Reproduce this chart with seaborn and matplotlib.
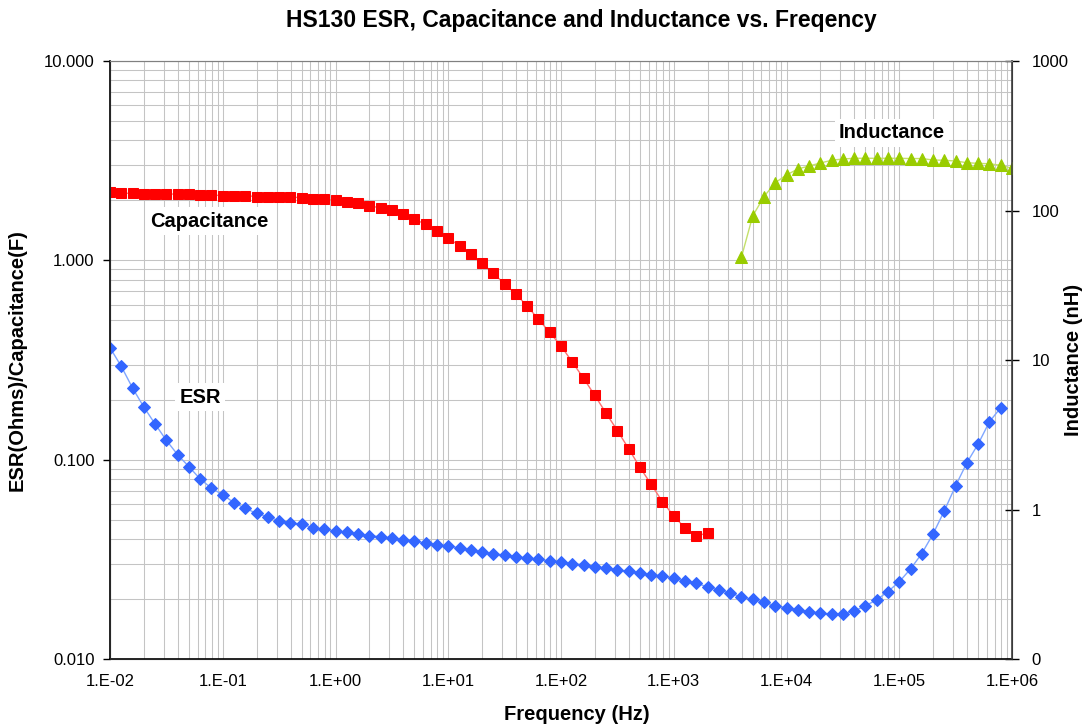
import numpy as np
import pandas as pd
import matplotlib
matplotlib.use('Agg')
import matplotlib.pyplot as plt
from matplotlib.ticker import FixedLocator, FixedFormatter, LogLocator, NullFormatter
import seaborn as sns

# sweep frequencies, 10 points per decade from 1e-2 to 1e6 Hz
freq = np.logspace(-2, 6, 81)

# ESR (Ohms), first 80 sweep points
esr = [0.3645, 0.2939, 0.2288, 0.1837, 0.1510, 0.1250, 0.1059, 0.0922, 0.0800, 0.0719,
       0.0667, 0.0608, 0.0570, 0.0538, 0.0517, 0.0494, 0.0481, 0.0475, 0.0456, 0.0447,
       0.0439, 0.0432, 0.0424, 0.0415, 0.0411, 0.0405, 0.0397, 0.0391, 0.0381, 0.0374,
       0.0367, 0.0362, 0.0352, 0.0344, 0.0337, 0.0332, 0.0326, 0.0321, 0.0316, 0.0311,
       0.0307, 0.0301, 0.0297, 0.0290, 0.0286, 0.0280, 0.0275, 0.0270, 0.0265, 0.0261,
       0.0254, 0.0247, 0.0240, 0.0230, 0.0222, 0.0214, 0.0205, 0.0199, 0.0193, 0.0185,
       0.0181, 0.0176, 0.0173, 0.0170, 0.0168, 0.0168, 0.0174, 0.0185, 0.0198, 0.0218,
       0.0244, 0.0283, 0.0338, 0.0424, 0.0554, 0.0740, 0.0965, 0.1199, 0.1550, 0.1823]

# Capacitance (F), first 54 sweep points
cap = [2.19, 2.17, 2.17, 2.15, 2.15, 2.15, 2.15, 2.15, 2.13, 2.13,
       2.11, 2.11, 2.11, 2.09, 2.09, 2.08, 2.08, 2.06, 2.04, 2.02,
       2.00, 1.96, 1.93, 1.88, 1.83, 1.78, 1.70, 1.61, 1.515, 1.40,
       1.29, 1.185, 1.07, 0.966, 0.861, 0.761, 0.676, 0.590, 0.506, 0.435,
       0.372, 0.309, 0.256, 0.210, 0.171, 0.140, 0.1135, 0.0915, 0.0752, 0.0615,
       0.0522, 0.0454, 0.0414, 0.0429]

# Inductance (nH), sweep points 56..80
ind = [48.6, 91.9, 123.7, 153.5, 172.8, 189.5, 198.5, 207.8, 216.7, 221.1,
       223.5, 223.5, 223.5, 223.5, 223.5, 222.6, 222.6, 217.7, 216.7, 214.3,
       208.8, 206.6, 205.5, 200.6, 191.6]
ind_start = 56

x_ticks = [1e-2, 1e-1, 1e0, 1e1, 1e2, 1e3, 1e4, 1e5, 1e6]
x_labels = ['1.E-02', '1.E-01', '1.E+00', '1.E+01', '1.E+02', '1.E+03', '1.E+04', '1.E+05', '1.E+06']
left_ticks = [0.01, 0.1, 1, 10]
left_labels = ['0.010', '0.100', '1.000', '10.000']
right_ticks = [0.1, 1, 10, 100, 1000]
right_labels = ['0', '1', '10', '100', '1000']

df_esr = pd.DataFrame({'freq': freq[:len(esr)], 'val': esr})
df_cap = pd.DataFrame({'freq': freq[:len(cap)], 'val': cap})
df_ind = pd.DataFrame({'freq': freq[ind_start:ind_start + len(ind)], 'val': ind})

sns.set_style('white')
plt.rcParams['font.family'] = ['Liberation Sans', 'DejaVu Sans']
plt.rcParams['text.color'] = 'black'
plt.rcParams['axes.labelcolor'] = 'black'

fig = plt.figure(figsize=(10.9, 7.24), dpi=100)
ax = fig.add_axes([110 / 1090, 1 - 659 / 724, 902 / 1090, 598 / 724])
ax2 = ax.twinx()

sns.lineplot(data=df_esr, x='freq', y='val', ax=ax, color='#7fa6ff', lw=1,
             marker='D', markersize=6.5, markerfacecolor='#3366ff', markeredgecolor='#3366ff')
sns.lineplot(data=df_cap, x='freq', y='val', ax=ax, color='#ff7070', lw=1,
             marker='s', markersize=6.6, markerfacecolor='#ff0000', markeredgecolor='#ff0000')
sns.lineplot(data=df_ind, x='freq', y='val', ax=ax2, color='#c4e06a', lw=1,
             marker='^', markersize=8, markerfacecolor='#99cc00', markeredgecolor='#99cc00')

ax.set_xscale('log')
ax.set_yscale('log')
ax2.set_yscale('log')
ax.set_xlim(1e-2, 1e6)
ax.set_ylim(0.01, 10)
ax2.set_ylim(0.1, 1000)

ax.xaxis.set_major_locator(FixedLocator(x_ticks))
ax.xaxis.set_major_formatter(FixedFormatter(x_labels))
ax.xaxis.set_minor_locator(LogLocator(base=10, subs=np.arange(2, 10), numticks=20))
ax.xaxis.set_minor_formatter(NullFormatter())
ax.yaxis.set_major_locator(FixedLocator(left_ticks))
ax.yaxis.set_major_formatter(FixedFormatter(left_labels))
ax.yaxis.set_minor_locator(LogLocator(base=10, subs=np.arange(2, 10), numticks=20))
ax.yaxis.set_minor_formatter(NullFormatter())
ax2.yaxis.set_major_locator(FixedLocator(right_ticks))
ax2.yaxis.set_major_formatter(FixedFormatter(right_labels))
ax2.yaxis.set_minor_locator(FixedLocator([]))

ax.grid(True, which='both', color='#c4c4c4', lw=0.75)
ax2.grid(False)
ax.tick_params(which='minor', length=0)
ax.tick_params(axis='x', which='major', direction='out', length=5, width=1,
               color='black', labelsize=12, labelcolor='black', pad=6)
ax.tick_params(axis='y', which='major', direction='out', length=5, width=1,
               color='black', labelsize=12, labelcolor='black', pad=6)
ax2.tick_params(axis='y', which='major', direction='inout', length=10, width=1,
                color='black', labelsize=12, labelcolor='black', pad=9)

for sp in ['left', 'bottom']:
    ax.spines[sp].set_color('black')
    ax.spines[sp].set_linewidth(1.2)
ax2.spines['right'].set_color('#404040')
ax2.spines['right'].set_linewidth(1.2)
ax2.spines['top'].set_color('#808080')
ax.spines['top'].set_color('#808080')

ax.set_xlabel('Frequency (Hz)', fontsize=14.5, fontweight='bold')
ax.xaxis.set_label_coords(0.517, -0.077)
ax.set_ylabel('ESR(Ohms)/Capacitance(F)', fontsize=14.5, fontweight='bold')
ax.yaxis.set_label_coords(-0.092, 0.5)
ax2.set_ylabel('Inductance (nH)', fontsize=14.5, fontweight='bold')
ax2.yaxis.set_label_coords(1.058, 0.5)

fig.text(581 / 1090, 1 - 21 / 724, 'HS130 ESR, Capacitance and Inductance vs. Freqency',
         ha='center', va='center', fontsize=16.5, fontweight='bold')

box = dict(facecolor='white', edgecolor='none', pad=3)
ax2.text(0.0755, 1.575, 'Capacitance', transform=ax.transData, ha='center', va='center',
         fontsize=14.5, fontweight='bold', bbox=box)
ax2.text(0.0628, 0.206, 'ESR', transform=ax.transData, ha='center', va='center',
         fontsize=14.5, fontweight='bold', bbox=box)
ax2.text(86300, 330, 'Inductance', ha='center', va='center',
         fontsize=14.5, fontweight='bold', bbox=box)

fig.savefig('out.png', dpi=100)
